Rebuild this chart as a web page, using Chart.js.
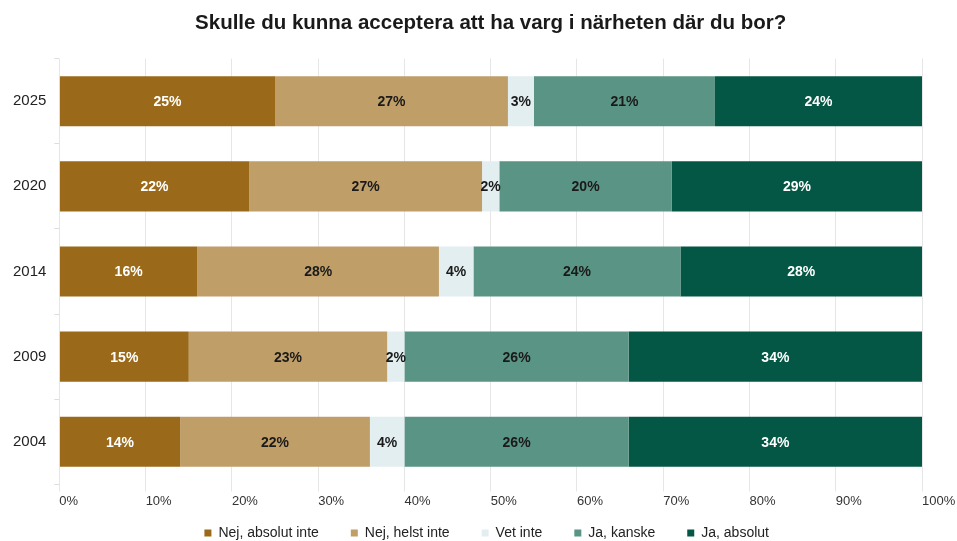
<!DOCTYPE html>
<html>
<head>
<meta charset="utf-8">
<script src="https://cdn.jsdelivr.net/npm/chart.js@4/dist/chart.umd.min.js"></script>
<style>
  html, body { margin: 0; padding: 0; background: #fff; }
</style>
</head>
<body>
<canvas id="vargChart" width="957" height="541"></canvas>
<script>
var years = ["2025", "2020", "2014", "2009", "2004"];
var seriesNames = ["Nej, absolut inte", "Nej, helst inte", "Vet inte", "Ja, kanske", "Ja, absolut"];

// andel svar per år, i procent
var nejAbsolutInte = [25, 22, 16, 15, 14];
var nejHelstInte = [27, 27, 28, 23, 22];
var vetInte = [3, 2, 4, 2, 4];
var jaKanske = [21, 20, 24, 26, 26];
var jaAbsolut = [24, 29, 28, 34, 34];

var seriesColors = ["#9a6a1a", "#bf9e68", "#e3eef1", "#5a9484", "#045744"];
var labelColors = ["#ffffff", "#1a1a1a", "#1a1a1a", "#1a1a1a", "#ffffff"];

var allValues = [nejAbsolutInte, nejHelstInte, vetInte, jaKanske, jaAbsolut];

var datasets = [];
for (let i = 0; i < seriesNames.length; i++) {
  datasets.push({
    label: seriesNames[i],
    data: allValues[i],
    backgroundColor: seriesColors[i],
    borderWidth: 0,
    barPercentage: 0.6,
    categoryPercentage: 0.98,
  });
}

// skriver procentsatsen mitt i varje segment
var segmentLabels = {
  id: "segmentLabels",
  afterDatasetsDraw: function(chart) {
    var ctx = chart.ctx;
    ctx.save();
    ctx.font = "bold 14px 'Liberation Sans', Arial, sans-serif";
    ctx.textAlign = "center";
    ctx.textBaseline = "middle";
    chart.data.datasets.forEach(function(ds, i) {
      var meta = chart.getDatasetMeta(i);
      meta.data.forEach(function(bar, j) {
        var mid = (bar.x + bar.base) / 2;
        ctx.fillStyle = labelColors[i];
        ctx.fillText(ds.data[j] + "%", mid, bar.y + 1);
      });
    });
    ctx.restore();
  }
};

// titel och förklaring centreras över själva diagramytan,
// förklaringens ruta görs högre uppåt eftersom dess höjd är kapad
var centerOnArea = {
  id: "centerOnArea",
  afterLayout: function(chart) {
    var mid = (chart.chartArea.left + chart.chartArea.right) / 2;
    [chart.titleBlock, chart.legend].forEach(function(box, k) {
      if (!box) return;
      var half = (box.right - box.left) / 2;
      var shift = k === 1 ? -4 : 0;
      box.left = mid - half + shift;
      box.right = mid + half + shift;
    });
    if (chart.legend) {
      chart.legend.top -= 17;
    }
  }
};

var config = {
  type: "bar",
  data: { labels: years, datasets: datasets },
  plugins: [segmentLabels, centerOnArea],
  options: {
    indexAxis: "y",
    responsive: false,
    animation: false,
    layout: { padding: { left: 5, right: 0, top: 11, bottom: 0 } },
    scales: {
      x: {
        stacked: true,
        min: 0,
        max: 100,
        afterFit: function(scale) {
          // plats till höger för etiketten 100%
          scale.paddingRight = 35;
        },
        ticks: {
          stepSize: 10,
          align: "start",
          color: "#333",
          font: { family: "'Liberation Sans', Arial, sans-serif", size: 13 },
          padding: 2,
          callback: function(v) { return v + "%"; }
        },
        grid: { color: "#e6e6e6", tickLength: 7 },
        border: { display: false }
      },
      y: {
        stacked: true,
        ticks: {
          color: "#222",
          font: { family: "'Liberation Sans', Arial, sans-serif", size: 15 },
          padding: 8
        },
        grid: { drawOnChartArea: false, color: "#dddddd", tickLength: 5 },
        border: { display: false }
      }
    },
    plugins: {
      title: {
        display: true,
        text: "Skulle du kunna acceptera att ha varg i närheten där du bor?",
        color: "#1a1a1a",
        font: { family: "'Liberation Sans', Arial, sans-serif", size: 20.5, weight: "bold" },
        padding: { top: 0, bottom: 23 }
      },
      legend: {
        display: true,
        position: "bottom",
        maxHeight: 30,
        labels: {
          boxWidth: 7,
          boxHeight: 7,
          padding: 32,
          color: "#222",
          font: { family: "'Liberation Sans', Arial, sans-serif", size: 14 }
        }
      },
      tooltip: { enabled: false }
    }
  }
};

var vargChart = new Chart(document.getElementById("vargChart"), config);
</script>
</body>
</html>
